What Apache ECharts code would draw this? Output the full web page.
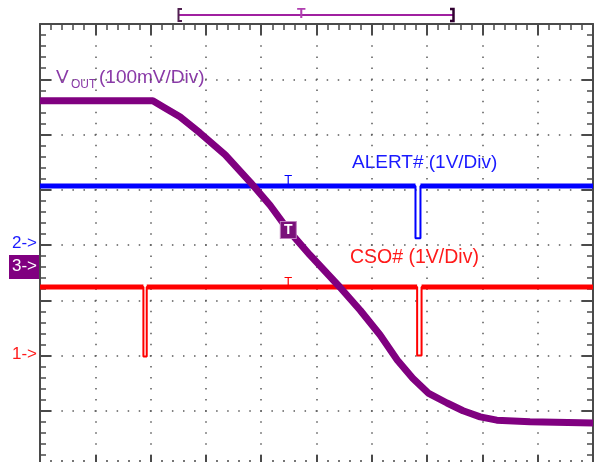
<!DOCTYPE html>
<html><head><meta charset="utf-8">
<script src="https://cdn.jsdelivr.net/npm/echarts@6/dist/echarts.min.js"></script>
<style>html,body{margin:0;padding:0;background:#fff}#c{width:598px;height:462px}</style>
</head><body><div id="c"></div>
<script>
// time axis: 10 divisions, vertical: 8 divisions
const xDivMin = 0, xDivMax = 10;
const yDivMin = 0, yDivMax = 8;

// VOUT trace (divisions)
const voutX = [0, 2.04, 2.26, 2.53, 2.89, 3.35, 3.80, 4.16, 4.49, 4.88, 5.42, 5.79, 6.15, 6.46, 6.74, 7.02, 7.36, 7.65, 7.96, 8.26, 8.86, 10];
const voutY = [6.61, 6.61, 6.48, 6.32, 6.03, 5.63, 5.14, 4.72, 4.27, 3.82, 3.24, 2.82, 2.37, 1.92, 1.59, 1.32, 1.14, 1.00, 0.89, 0.83, 0.80, 0.78];

// ALERT# trace
const alertX = [0, 6.79, 6.79, 6.88, 6.88, 10];
const alertY = [5.07, 5.07, 4.12, 4.12, 5.07, 5.07];
const alertBase = 5.07;

// CSO# trace
const csoX = [0, 1.87, 1.87, 1.93, 1.93, 6.82, 6.82, 6.90, 6.90, 10];
const csoY = [3.24, 3.24, 1.98, 1.98, 3.24, 3.24, 2.0, 2.0, 3.24, 3.24];
const csoBase = 3.24;

// trigger position
const trigX = 4.49, trigY = 4.27;

const pts = (xs, ys) => xs.map((x, i) => [x, ys[i]]);
const flatOnly = (xs, ys, base) => xs.map((x, i) => ys[i] === base ? [x, ys[i]] : null);

const purple = '#800080', blue = '#0000ff', red = '#ff0000', frame = '#4a4a4a';

function axisCommon(pos, isX) {
  return {
    type: 'value', position: pos,
    min: isX ? xDivMin : yDivMin, max: isX ? xDivMax : yDivMax, interval: 1,
    axisLine: { show: true, onZero: false, lineStyle: { color: frame, width: 2 } },
    axisTick: { show: true, inside: true, length: 11, lineStyle: { color: frame, width: 2 } },
    minorTick: { show: true, splitNumber: 5, length: 6, lineStyle: { color: frame, width: 1.5 } },
    axisLabel: { show: false },
    splitLine: { show: false }
  };
}
const dotted = { color: '#5a5a5a', width: 1.5, type: [1.5, 9.555], dashOffset: 0.75 };
const xb = axisCommon('bottom', true); xb.splitLine = { show: true, lineStyle: dotted };
const xt = axisCommon('top', true);
const yl = axisCommon('left', false); yl.splitLine = { show: true, lineStyle: dotted };
const yr = axisCommon('right', false);

const chart = echarts.init(document.getElementById('c'), null, { renderer: 'canvas' });
const smallT = (x, y, c) => ({
  data: [{ coord: [x, y] }],
  symbol: 'rect', symbolSize: [1, 1], itemStyle: { color: 'rgba(0,0,0,0)' },
  label: { show: true, formatter: 'T', color: c, fontSize: 13, fontFamily: 'Liberation Sans', offset: [0, -5] },
  silent: true, animation: false
});
chart.setOption({
  animation: false,
  backgroundColor: '#fff',
  grid: { left: 40, right: 5, top: 24, bottom: -4, containLabel: false, outerBoundsMode: 'none' },
  xAxis: [xb, xt],
  yAxis: [yl, yr],
  series: [
    { type: 'line', data: pts(alertX, alertY), showSymbol: false, lineStyle: { color: blue, width: 2 }, z: 3 },
    { type: 'line', data: flatOnly(alertX, alertY, alertBase), showSymbol: false, connectNulls: false,
      lineStyle: { color: blue, width: 5 }, z: 3, markPoint: smallT(trigX, alertBase, blue) },
    { type: 'line', data: pts(csoX, csoY), showSymbol: false, lineStyle: { color: red, width: 2 }, z: 3 },
    { type: 'line', data: flatOnly(csoX, csoY, csoBase), showSymbol: false, connectNulls: false,
      lineStyle: { color: red, width: 5 }, z: 3, markPoint: smallT(trigX, csoBase, red) },
    { type: 'line', data: pts(voutX, voutY), showSymbol: false, lineStyle: { color: purple, width: 7, join: 'round' }, z: 4,
      markPoint: {
        data: [{ coord: [trigX, trigY] }], symbol: 'rect', symbolSize: [16, 17],
        itemStyle: { color: '#7a107a', borderColor: '#c080c0', borderWidth: 1 },
        label: { show: true, formatter: 'T', color: '#fff', fontSize: 14, fontWeight: 'bold', fontFamily: 'Liberation Sans', position: 'inside' },
        silent: true
      } }
  ],
  graphic: [
    { type: 'text', left: 56, top: 68, style: { text: 'V', fill: '#8a3aa8', font: '19px "Liberation Sans"' } },
    { type: 'text', left: 71, top: 79, style: { text: 'OUT', fill: '#8a3aa8', font: '12px "Liberation Sans"' } },
    { type: 'text', left: 99, top: 68, style: { text: '(100mV/Div)', fill: '#8a3aa8', font: '19px "Liberation Sans"' } },
    { type: 'text', left: 352, top: 153, style: { text: 'ALERT# (1V/Div)', fill: '#1a1aff', font: '19px "Liberation Sans"' } },
    { type: 'text', left: 350, top: 248, style: { text: 'CSO# (1V/Div)', fill: '#ff1a1a', font: '19.5px "Liberation Sans"' } },
    { type: 'text', left: 12, top: 235, style: { text: '2->', fill: '#1a1aff', font: '17px "Liberation Sans"' } },
    { type: 'rect', shape: { x: 9, y: 255, width: 31, height: 24 }, style: { fill: '#800080' } },
    { type: 'text', left: 12, top: 258, style: { text: '3->', fill: '#ffffff', font: '17px "Liberation Sans"' } },
    { type: 'text', left: 12, top: 346, style: { text: '1->', fill: '#ff1a1a', font: '17px "Liberation Sans"' } },
    { type: 'line', shape: { x1: 178, y1: 15, x2: 454, y2: 15 }, style: { stroke: '#a020a0', lineWidth: 2 } },
    { type: 'polyline', shape: { points: [[182, 9], [178.5, 9], [178.5, 21], [182, 21]] }, style: { stroke: '#502050', lineWidth: 2, fill: null } },
    { type: 'polyline', shape: { points: [[450, 9], [453.5, 9], [453.5, 21], [450, 21]] }, style: { stroke: '#300030', lineWidth: 2.5, fill: null } },
    { type: 'text', left: 297, top: 7, style: { text: 'T', fill: '#b040b0', font: 'bold 14px "Liberation Sans"' } }
  ]
});
</script>
</body></html>
